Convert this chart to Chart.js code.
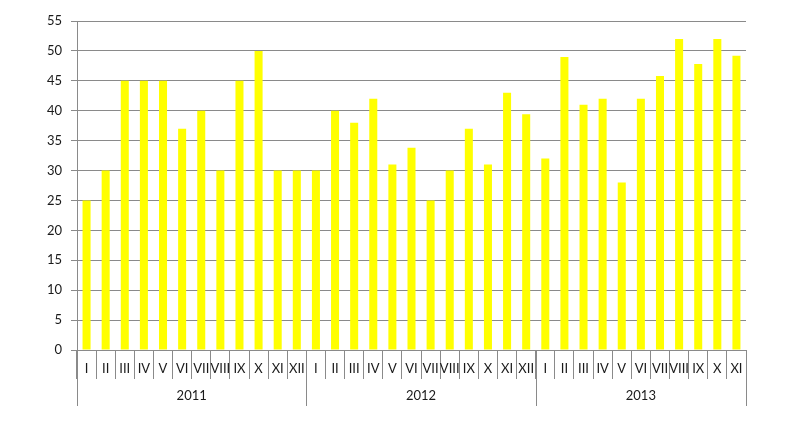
<!DOCTYPE html>
<html>
<head>
<meta charset="utf-8">
<script src="https://cdn.jsdelivr.net/npm/chart.js@4"></script>
<style>
  html, body { margin: 0; padding: 0; background: #fff; }
  #wrap { width: 800px; height: 439px; }
</style>
</head>
<body>
<div id="wrap"><canvas id="chart"></canvas></div>
<script>
const years = ['2011', '2012', '2013'];
const months2011 = ['I', 'II', 'III', 'IV', 'V', 'VI', 'VII', 'VIII', 'IX', 'X', 'XI', 'XII'];
const months2012 = ['I', 'II', 'III', 'IV', 'V', 'VI', 'VII', 'VIII', 'IX', 'X', 'XI', 'XII'];
const months2013 = ['I', 'II', 'III', 'IV', 'V', 'VI', 'VII', 'VIII', 'IX', 'X', 'XI'];
const values2011 = [25, 30, 45, 45, 45, 37, 40, 30, 45, 50, 30, 30];
const values2012 = [30, 40, 38, 42, 31, 33.8, 25, 30, 37, 31, 43, 39.4];
const values2013 = [32, 49, 41, 42, 28, 42, 45.8, 52, 47.8, 52, 49.2];

const monthGroups = [months2011, months2012, months2013];
const labels = [].concat(months2011, months2012, months2013);
const values = [].concat(values2011, values2012, values2013);

const gridColor = '#8a8a8a';
const textColor = '#1a1a1a';
const fontFamily = 'Lato, "Open Sans", sans-serif';

// years row under the month labels
const yearAxis = {
    id: 'yearAxis',
    afterDraw(chart) {
        const ctx = chart.ctx;
        const x = chart.scales.x;
        const area = chart.chartArea;
        const step = x.getPixelForValue(1) - x.getPixelForValue(0);
        const bottom = area.bottom + 56;

        ctx.save();
        ctx.strokeStyle = gridColor;
        ctx.lineWidth = 1;
        let start = 0;
        const edges = [0];
        monthGroups.forEach(g => { start += g.length; edges.push(start); });
        edges.forEach(i => {
            const px = Math.round(x.getPixelForValue(i) - step / 2) + 0.5;
            ctx.beginPath();
            ctx.moveTo(px, area.bottom);
            ctx.lineTo(px, bottom);
            ctx.stroke();
        });

        ctx.fillStyle = textColor;
        ctx.font = '13px ' + fontFamily;
        ctx.textAlign = 'center';
        ctx.textBaseline = 'middle';
        years.forEach((y, k) => {
            const a = x.getPixelForValue(edges[k]) - step / 2;
            const b = x.getPixelForValue(edges[k + 1]) - step / 2;
            ctx.fillText(y, (a + b) / 2, area.bottom + 46);
        });
        ctx.restore();
    }
};

new Chart(document.getElementById('chart').getContext('2d'), {
    type: 'bar',
    data: {
        labels: labels,
        datasets: [{
            data: values,
            backgroundColor: '#ffff00',
            borderWidth: 0,
            categoryPercentage: 1,
            barPercentage: 0.42
        }]
    },
    options: {
        responsive: true,
        maintainAspectRatio: false,
        animation: false,
        layout: { padding: { top: 21, right: 54, left: 0, bottom: 0 } },
        plugins: {
            legend: { display: false },
            tooltip: { enabled: false }
        },
        scales: {
            x: {
                afterFit: s => { s.height = 89; },
                grid: {
                    offset: true,
                    drawOnChartArea: false,
                    drawTicks: true,
                    tickLength: 29,
                    color: gridColor
                },
                border: { display: true, color: gridColor },
                ticks: {
                    autoSkip: false,
                    maxRotation: 0,
                    minRotation: 0,
                    padding: -18,
                    color: textColor,
                    font: { family: fontFamily, size: 13 }
                }
            },
            y: {
                min: 0,
                max: 55,
                afterFit: s => { s.width = 77; },
                grid: { color: gridColor, tickLength: 6 },
                border: { display: true, color: gridColor },
                ticks: {
                    stepSize: 5,
                    padding: 9,
                    color: textColor,
                    font: { family: fontFamily, size: 13 }
                }
            }
        }
    },
    plugins: [yearAxis]
});
</script>
</body>
</html>
